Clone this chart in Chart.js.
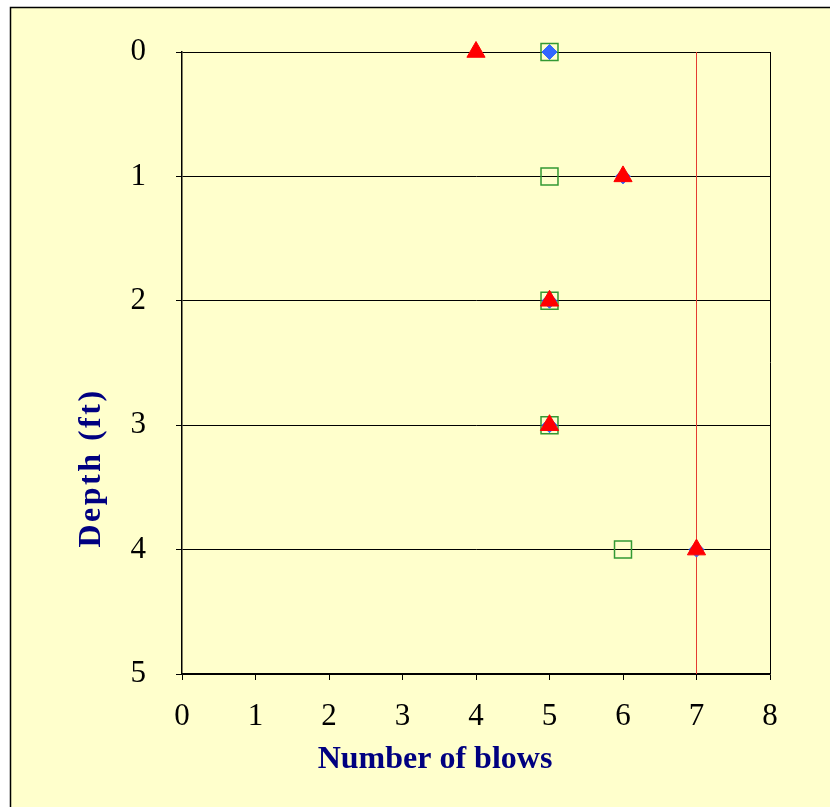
<!DOCTYPE html>
<html>
<head>
<meta charset="utf-8">
<script src="https://cdn.jsdelivr.net/npm/chart.js@4/dist/chart.umd.min.js"></script>
<style>
  html, body { margin: 0; padding: 0; background: #fff; }
  canvas { display: block; }
</style>
</head>
<body>
<canvas id="blows-chart" width="830" height="807"></canvas>
<script>
// depth of each reading (ft)
const depths = [0, 1, 2, 3, 4];
// blows per series
const squareBlows = [5, 5, 5, 5, 6];
const diamondBlows = [5, 6, 5, 5, 7];
const triangleBlows = [4, 6, 5, 5, 7];
// vertical limit line
const limitBlows = 7;
const limitDepths = [0, 5];

const xTicks = [0, 1, 2, 3, 4, 5, 6, 7, 8];
const yTicks = [0, 1, 2, 3, 4, 5];

const xTitle = "Number of blows";
const yTitle = "Depth (ft)";

const toPoints = (xs, ys) => xs.map((x, i) => ({ x: x, y: ys[i] }));

const serif = "'Liberation Serif', 'Times New Roman', serif";

// yellow panel with thin black frame, plus axis titles placed like the original
const framePlugin = {
  id: "frame",
  beforeDraw(chart) {
    const ctx = chart.ctx;
    ctx.save();
    ctx.fillStyle = "#fff";
    ctx.fillRect(0, 0, chart.width, chart.height);
    ctx.fillStyle = "#FFFFCC";
    ctx.fillRect(10, 7, chart.width, chart.height);
    ctx.strokeStyle = "#000";
    ctx.lineWidth = 1.5;
    ctx.strokeRect(10.5, 7.5, chart.width + 10, chart.height + 10);
    ctx.restore();
  },
  afterDraw(chart) {
    const ctx = chart.ctx;
    ctx.save();
    ctx.fillStyle = "#000080";
    ctx.font = "bold 32px " + serif;
    ctx.textAlign = "center";
    ctx.textBaseline = "alphabetic";
    ctx.fillText(xTitle, 435, 768);

    ctx.translate(100, 468);
    ctx.rotate(-Math.PI / 2);
    ctx.letterSpacing = "2.5px";
    ctx.fillText(yTitle, 0, 0);
    ctx.restore();
  }
};

new Chart(document.getElementById("blows-chart"), {
  type: "scatter",
  data: {
    datasets: [
      {
        label: "triangles",
        data: toPoints(triangleBlows, depths),
        pointStyle: "triangle",
        pointRadius: 10.5,
        backgroundColor: "#FF0000",
        borderColor: "#FF0000",
        borderWidth: 1,
        clip: false
      },
      {
        label: "diamonds",
        data: toPoints(diamondBlows, depths),
        pointStyle: "rectRot",
        pointRadius: 7.5,
        backgroundColor: "#3366FF",
        borderColor: "#3366FF",
        borderWidth: 1,
        clip: false
      },
      {
        label: "squares",
        data: toPoints(squareBlows, depths),
        pointStyle: "rect",
        pointRadius: 12,
        backgroundColor: "rgba(0,0,0,0)",
        borderColor: "#339933",
        borderWidth: 1.5,
        clip: false
      },
      {
        label: "limit",
        type: "line",
        data: limitDepths.map(d => ({ x: limitBlows, y: d })),
        borderColor: "rgb(228, 60, 50)",
        borderWidth: 1,
        pointRadius: 0,
        fill: false
      }
    ]
  },
  options: {
    responsive: false,
    animation: false,
    events: [],
    layout: { padding: { left: 0, top: 52, right: 60, bottom: 0 } },
    plugins: {
      legend: { display: false },
      tooltip: { enabled: false }
    },
    scales: {
      x: {
        type: "linear",
        min: 0,
        max: 8,
        afterFit: s => { s.height = 133; },
        afterBuildTicks: s => { s.ticks = xTicks.map(v => ({ value: v })); },
        grid: {
          color: c => (c.tick && c.tick.value === 8 ? "#000" : "rgba(0,0,0,0)"),
          tickColor: "#000",
          tickLength: 6,
          lineWidth: 1
        },
        border: { display: true, color: "#000", width: 1.5 },
        ticks: {
          color: "#000",
          padding: 18,
          maxRotation: 0,
          font: { family: serif, size: 31 }
        }
      },
      y: {
        type: "linear",
        reverse: true,
        min: 0,
        max: 5,
        afterFit: s => { s.width = 182; },
        afterBuildTicks: s => { s.ticks = yTicks.map(v => ({ value: v })); },
        grid: {
          color: "#000",
          tickColor: "#000",
          tickLength: 6,
          lineWidth: 1
        },
        border: { display: true, color: "#000", width: 1.5 },
        ticks: {
          color: "#000",
          padding: 30,
          font: { family: serif, size: 31 }
        }
      }
    }
  },
  plugins: [framePlugin]
});
</script>
</body>
</html>
